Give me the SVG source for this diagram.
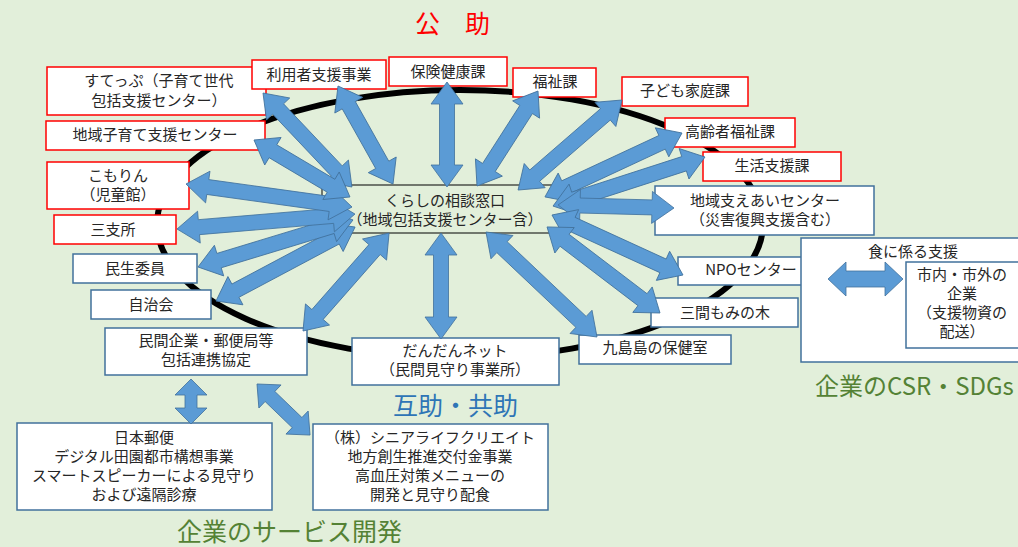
<svg xmlns="http://www.w3.org/2000/svg" width="1018" height="547" viewBox="0 0 1018 547">
<style>
.rb{fill:#fff;stroke:#FF0000;stroke-width:1.5}
.bb{fill:#fff;stroke:#41719C;stroke-width:1.5}
.t{font-family:"Noto Sans CJK JP","Noto Sans",sans-serif;font-size:15px;fill:#262626;text-anchor:middle}
.ar{fill:#5B9BD5;stroke:#41719C;stroke-width:0.8}
.big{font-family:"Noto Sans CJK JP","Noto Sans",sans-serif;font-size:25px}
</style>
<rect x="0" y="0" width="1018" height="547" fill="#E2EFDA"/>
<ellipse cx="460" cy="224" rx="303" ry="134" fill="none" stroke="#000" stroke-width="6"/>

<text class="big" x="415" y="33" fill="#FF0000">公　助</text>
<text class="big" x="393" y="415" fill="#2E75B6">互助・共助</text>
<text class="big" x="815" y="395" fill="#548235" style="font-size:24px">企業のCSR・SDGs</text>
<text class="big" x="177" y="541" fill="#548235" style="font-size:25px">企業のサービス開発</text>

<g id="center">
<rect x="322" y="185" width="247" height="48" fill="#E2EFDA" stroke="#000" stroke-width="1"/>
<text class="t" x="445" y="206">くらしの相談窓口<tspan x="445" dy="19">（地域包括支援センター含）</tspan></text>
</g>
<g id="step">
<rect class="rb" x="47" y="67" width="219" height="48"/>
<text class="t" x="159" y="86">すてっぷ（子育て世代<tspan x="159" dy="20">包括支援センター）</tspan></text>
</g>
<g id="riyousha">
<rect class="rb" x="252" y="60" width="134" height="29"/>
<text class="t" x="319" y="80">利用者支援事業</text>
</g>
<g id="hoken">
<rect class="rb" x="389" y="57" width="118" height="29"/>
<text class="t" x="448" y="77">保険健康課</text>
</g>
<g id="fukushi">
<rect class="rb" x="513" y="68" width="83" height="29"/>
<text class="t" x="555" y="87">福祉課</text>
</g>
<g id="kodomo">
<rect class="rb" x="622" y="77" width="126" height="29"/>
<text class="t" x="685" y="96">子ども家庭課</text>
</g>
<g id="koureisha">
<rect class="rb" x="665" y="118" width="130" height="29"/>
<text class="t" x="730" y="137">高齢者福祉課</text>
</g>
<g id="seikatsu">
<rect class="rb" x="703" y="152" width="138" height="29"/>
<text class="t" x="772" y="171">生活支援課</text>
</g>
<g id="chiikikosodate">
<rect class="rb" x="46" y="121" width="219" height="29"/>
<text class="t" x="155" y="140">地域子育て支援センター</text>
</g>
<g id="komorin">
<rect class="rb" x="47" y="162" width="142" height="47"/>
<text class="t" x="118" y="181">こもりん<tspan x="118" dy="19">（児童館）</tspan></text>
</g>
<g id="sanshisho">
<rect class="rb" x="54" y="215" width="122" height="29"/>
<text class="t" x="113" y="235">三支所</text>
</g>
<g id="minsei">
<rect class="bb" x="73" y="254" width="124" height="29"/>
<text class="t" x="135" y="274">民生委員</text>
</g>
<g id="jichikai">
<rect class="bb" x="91" y="290" width="120" height="29"/>
<text class="t" x="151" y="310">自治会</text>
</g>
<g id="minkan">
<rect class="bb" x="105" y="328" width="202" height="47"/>
<text class="t" x="206" y="346">民間企業・郵便局等<tspan x="206" dy="19">包括連携協定</tspan></text>
</g>
<g id="dandan">
<rect class="bb" x="352" y="338" width="207" height="47"/>
<text class="t" x="455" y="356">だんだんネット<tspan x="455" dy="19">（民間見守り事業所）</tspan></text>
</g>
<g id="kushima">
<rect class="bb" x="579" y="335" width="152" height="29"/>
<text class="t" x="655" y="353">九島島の保健室</text>
</g>
<g id="mima">
<rect class="bb" x="651" y="298" width="147" height="29"/>
<text class="t" x="725" y="318">三間もみの木</text>
</g>
<g id="npo">
<rect class="bb" x="678" y="257" width="147" height="28"/>
<text class="t" x="751" y="275">NPOセンター</text>
</g>
<g id="sasaeai">
<rect class="bb" x="655" y="186" width="219" height="49"/>
<text class="t" x="765" y="206">地域支えあいセンター<tspan x="765" dy="19">（災害復興支援含む）</tspan></text>
</g>
<g id="shoku">
<rect class="bb" x="801" y="238" width="222" height="124"/>
<text class="t" x="913" y="257">食に係る支援</text>
</g>
<g id="kigyou">
<rect class="bb" x="906" y="262" width="117" height="86"/>
<text class="t" x="962" y="280">市内・市外の<tspan x="962" dy="19">企業</tspan><tspan x="962" dy="19">（支援物資の</tspan><tspan x="962" dy="19">配送）</tspan></text>
</g>
<g id="yubin">
<rect class="bb" x="17" y="423" width="255" height="87"/>
<text class="t" x="144" y="443">日本郵便<tspan x="144" dy="19">デジタル田園都市構想事業</tspan><tspan x="144" dy="19">スマートスピーカーによる見守り</tspan><tspan x="144" dy="19">および遠隔診療</tspan></text>
</g>
<g id="senior">
<rect class="bb" x="313" y="424" width="235" height="86"/>
<text class="t" x="430" y="443">（株）シニアライフクリエイト<tspan x="430" dy="19">地方創生推進交付金事業</tspan><tspan x="430" dy="19">高血圧対策メニューの</tspan><tspan x="430" dy="19">開発と見守り配食</tspan></text>
</g>

<g id="connectors">
<polygon class="ar" transform="translate(263,93) rotate(46.6)" points="0,0 22,-16 22,-7.5 107.4,-7.5 107.4,-16 129.4,0 107.4,16 107.4,7.5 22,7.5 22,16"/>
<polygon class="ar" transform="translate(338,86) rotate(60.7)" points="0,0 22,-16 22,-7.5 90.4,-7.5 90.4,-16 112.4,0 90.4,16 90.4,7.5 22,7.5 22,16"/>
<polygon class="ar" transform="translate(447,82) rotate(90)" points="0,0 22,-16 22,-7.5 83,-7.5 83,-16 105,0 83,16 83,7.5 22,7.5 22,16"/>
<polygon class="ar" transform="translate(538,91) rotate(122.7)" points="0,0 22,-16 22,-7.5 90.9,-7.5 90.9,-16 112.9,0 90.9,16 90.9,7.5 22,7.5 22,16"/>
<polygon class="ar" transform="translate(622,100) rotate(139.1)" points="0,0 22,-16 22,-7.5 115.5,-7.5 115.5,-16 137.5,0 115.5,16 115.5,7.5 22,7.5 22,16"/>
<polygon class="ar" transform="translate(682,133) rotate(155)" points="0,0 22,-16 22,-7.5 129.2,-7.5 129.2,-16 151.2,0 129.2,16 129.2,7.5 22,7.5 22,16"/>
<polygon class="ar" transform="translate(705,157) rotate(162.1)" points="0,0 22,-16 22,-7.5 137.7,-7.5 137.7,-16 159.7,0 137.7,16 137.7,7.5 22,7.5 22,16"/>
<polygon class="ar" transform="translate(674,208) rotate(181.5)" points="0,0 22,-16 22,-7.5 94,-7.5 94,-16 116,0 94,16 94,7.5 22,7.5 22,16"/>
<polygon class="ar" transform="translate(683,275) rotate(204.6)" points="0,0 22,-16 22,-7.5 122.1,-7.5 122.1,-16 144.1,0 122.1,16 122.1,7.5 22,7.5 22,16"/>
<polygon class="ar" transform="translate(660,313) rotate(217.3)" points="0,0 22,-16 22,-7.5 120,-7.5 120,-16 142,0 120,16 120,7.5 22,7.5 22,16"/>
<polygon class="ar" transform="translate(597,337) rotate(223.4)" points="0,0 22,-16 22,-7.5 130.8,-7.5 130.8,-16 152.8,0 130.8,16 130.8,7.5 22,7.5 22,16"/>
<polygon class="ar" transform="translate(441,339) rotate(270)" points="0,0 22,-16 22,-7.5 84,-7.5 84,-16 106,0 84,16 84,7.5 22,7.5 22,16"/>
<polygon class="ar" transform="translate(303,331) rotate(-48.7)" points="0,0 22,-16 22,-7.5 108.4,-7.5 108.4,-16 130.4,0 108.4,16 108.4,7.5 22,7.5 22,16"/>
<polygon class="ar" transform="translate(216,301) rotate(-28)" points="0,0 22,-16 22,-7.5 135.5,-7.5 135.5,-16 157.5,0 135.5,16 135.5,7.5 22,7.5 22,16"/>
<polygon class="ar" transform="translate(198,267) rotate(-16.9)" points="0,0 22,-16 22,-7.5 140,-7.5 140,-16 162,0 140,16 140,7.5 22,7.5 22,16"/>
<polygon class="ar" transform="translate(177,229) rotate(-4.8)" points="0,0 22,-16 22,-7.5 156.6,-7.5 156.6,-16 178.6,0 156.6,16 156.6,7.5 22,7.5 22,16"/>
<polygon class="ar" transform="translate(186,184) rotate(7.9)" points="0,0 22,-16 22,-7.5 145.6,-7.5 145.6,-16 167.6,0 145.6,16 145.6,7.5 22,7.5 22,16"/>
<polygon class="ar" transform="translate(254,140) rotate(30.7)" points="0,0 22,-16 22,-7.5 89.6,-7.5 89.6,-16 111.6,0 89.6,16 89.6,7.5 22,7.5 22,16"/>
<polygon class="ar" transform="translate(828,279)" points="0,0 18,-17 18,-8 57,-8 57,-17 75,0 57,17 57,8 18,8 18,17"/>
<polygon class="ar" transform="translate(191,379) rotate(90)" points="0,0 16,-16 16,-6 29,-6 29,-16 45,0 29,16 29,6 16,6 16,16"/>
<polygon class="ar" transform="translate(257,384) rotate(43.9)" points="0,0 18,-16 18,-7 55.6,-7 55.6,-16 73.6,0 55.6,16 55.6,7 18,7 18,16"/>
</g>
</svg>
